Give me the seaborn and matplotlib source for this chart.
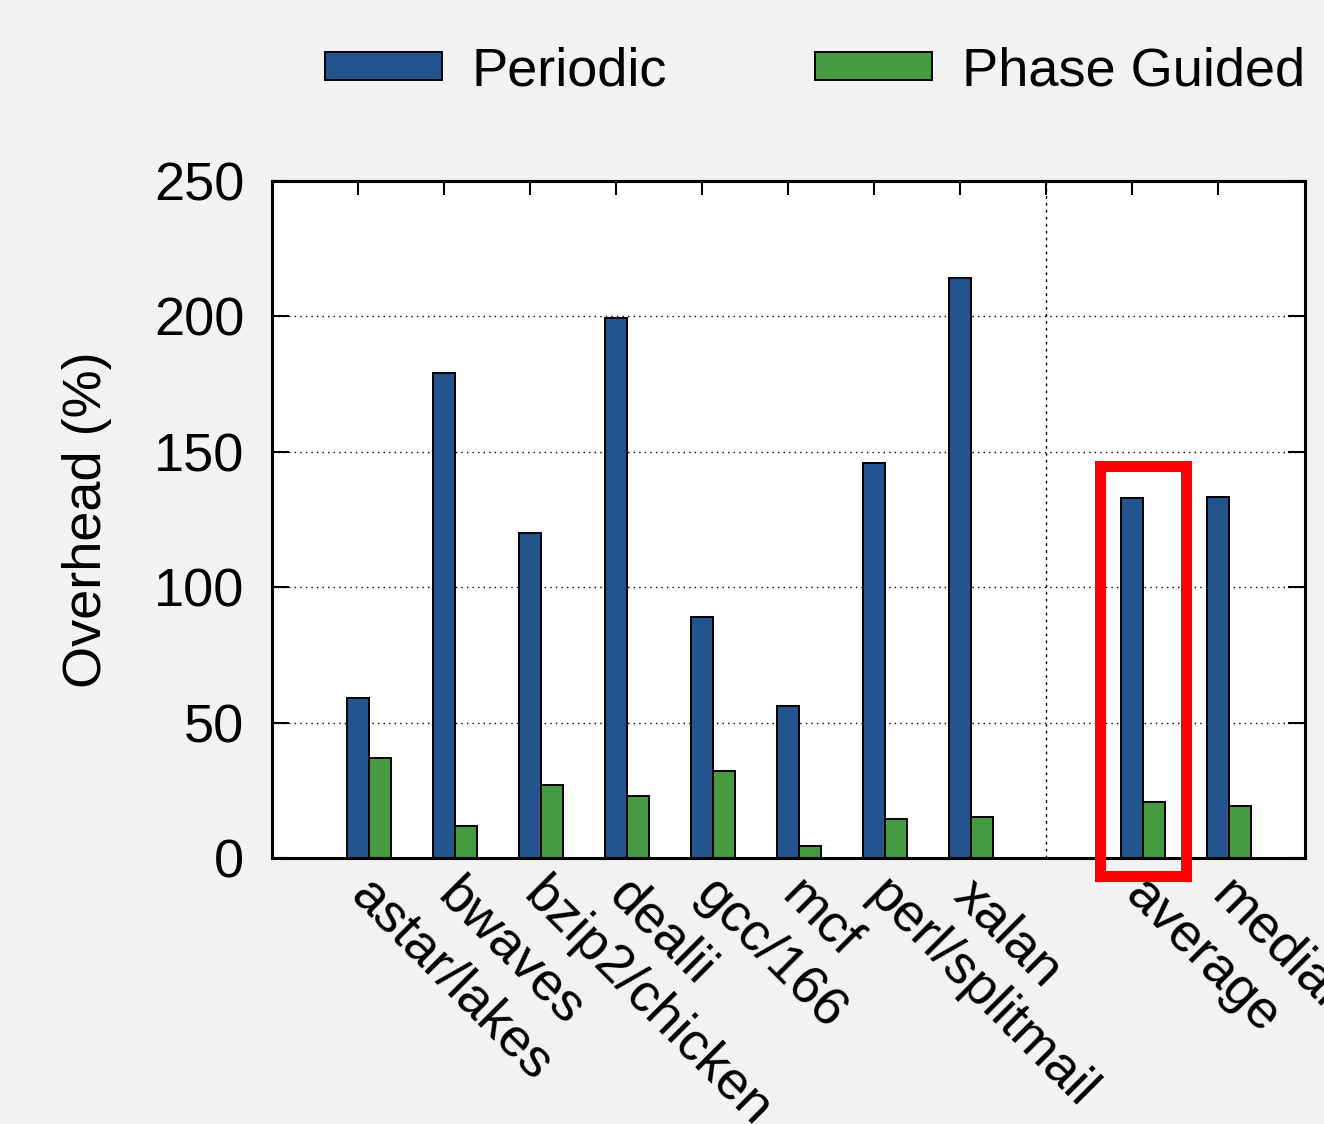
import matplotlib
matplotlib.use("Agg")
import matplotlib.pyplot as plt
import matplotlib.patches as mpatches
import matplotlib.transforms as mtransforms
import numpy as np
import pandas as pd
import seaborn as sns

# Benchmarks and summary columns
benchmarks = ["astar/lakes", "bwaves", "bzip2/chicken", "dealii", "gcc/166",
              "mcf", "perl/splitmail", "xalan"]
summaries = ["average", "median"]

# Overhead (%) per series
periodic = [59, 179, 120, 199.5, 89, 56, 146, 214, 133, 133.3]
phase_guided = [37, 12, 27, 23, 32, 4.5, 14.5, 15.2, 20.8, 19.2]

series_names = ["Periodic", "Phase Guided"]
series_colors = ["#24548e", "#469b41"]

# x slots: benchmarks 0..7, gap at 8, summaries at 9 and 10
labels = benchmarks + summaries
slots = list(range(len(benchmarks))) + [len(benchmarks) + 1 + i for i in range(len(summaries))]

df = pd.DataFrame({
    "slot": slots * 2,
    "label": labels * 2,
    "overhead": periodic + phase_guided,
    "series": [series_names[0]] * len(labels) + [series_names[1]] * len(labels),
})

sns.set_theme(style="white")
plt.rcParams["font.family"] = ["Liberation Sans", "DejaVu Sans"]
plt.rcParams["font.size"] = 39
for key in ("text.color", "axes.labelcolor", "xtick.color", "ytick.color",
            "axes.edgecolor"):
    plt.rcParams[key] = "black"

fig = plt.figure(figsize=(13.24, 11.24), dpi=100, facecolor="#f2f2f2")
ax = fig.add_axes([272 / 1324, 1 - 858 / 1124, 1033 / 1324, 677 / 1124])
ax.set_facecolor("white")

bar_group_width = 0.512
sns.barplot(data=df, x="slot", y="overhead", hue="series", native_scale=True,
            palette=series_colors, width=bar_group_width, dodge=True,
            edgecolor="black", linewidth=1.4, saturation=1, ax=ax, legend=True,
            errorbar=None)

ax.set_xlim(-1.128, 10.884)
ax.set_ylim(0, 250)
ax.set_yticks([0, 50, 100, 150, 200, 250])
ax.yaxis.grid(True, linestyle=(0, (1, 3)), color="black", linewidth=1.0)
ax.xaxis.grid(False)
ax.set_axisbelow(True)

# tick positions sit at the left bar of each cluster
tick_shift = -bar_group_width / 4
label_pos = [s + tick_shift for s in slots]
ax.set_xticks(label_pos)
ax.set_xticklabels([])
ax.tick_params(axis="x", which="major", length=0, pad=0)
ax.tick_params(axis="y", which="major", direction="in", length=12, width=1.5,
               left=True, right=True, pad=20, labelsize=39, color="black",
               labelcolor="black")

# rotated category labels hanging below the axis
label_trans = (mtransforms.blended_transform_factory(ax.transData, ax.transAxes)
               + mtransforms.ScaledTranslation(19 / 100, -12 / 100, fig.dpi_scale_trans))
for xp, name in zip(label_pos, labels):
    ax.text(xp, 0, name, transform=label_trans, rotation=-45, ha="left",
            va="top", rotation_mode="anchor", fontsize=39, color="black",
            clip_on=False)

# top mirror ticks at every slot
top = ax.secondary_xaxis("top")
top.set_xticks([k + tick_shift for k in range(len(benchmarks) + 1 + len(summaries))])
top.set_xticklabels([])
top.tick_params(direction="in", length=10, width=1.5, color="black")
top.spines["top"].set_linewidth(2.2)
top.spines["top"].set_color("black")

# separator between benchmarks and summaries
ax.axvline(len(benchmarks) + tick_shift, color="black", linestyle=(0, (2, 3)),
           linewidth=1.0, zorder=0.5)

for sp in ax.spines.values():
    sp.set_linewidth(2.2)
    sp.set_color("black")

ax.set_xlabel("")
ax.set_ylabel("Overhead (%)", fontsize=39, color="black")
ax.yaxis.set_label_coords(-0.155, 0.5)

# highlight box around the average cluster
avg_slot = slots[labels.index("average")]
box = mpatches.Rectangle((avg_slot - 0.494, -6.8), 0.989, 151.4, fill=False,
                         edgecolor="#ff0000", linewidth=8, clip_on=False, zorder=5)
ax.add_patch(box)

handles, hlabels = ax.get_legend_handles_labels()
ax.legend_.remove()
fig.legend(handles, hlabels, loc="center left",
           bbox_to_anchor=(325 / 1324, 1 - 71 / 1124), ncol=2, frameon=False,
           fontsize=39, handlelength=2.16, handleheight=0.41, handletextpad=0.55,
           columnspacing=2.73, borderpad=0, borderaxespad=0, labelcolor="black")

fig.savefig("out.png", dpi=100, facecolor=fig.get_facecolor())
